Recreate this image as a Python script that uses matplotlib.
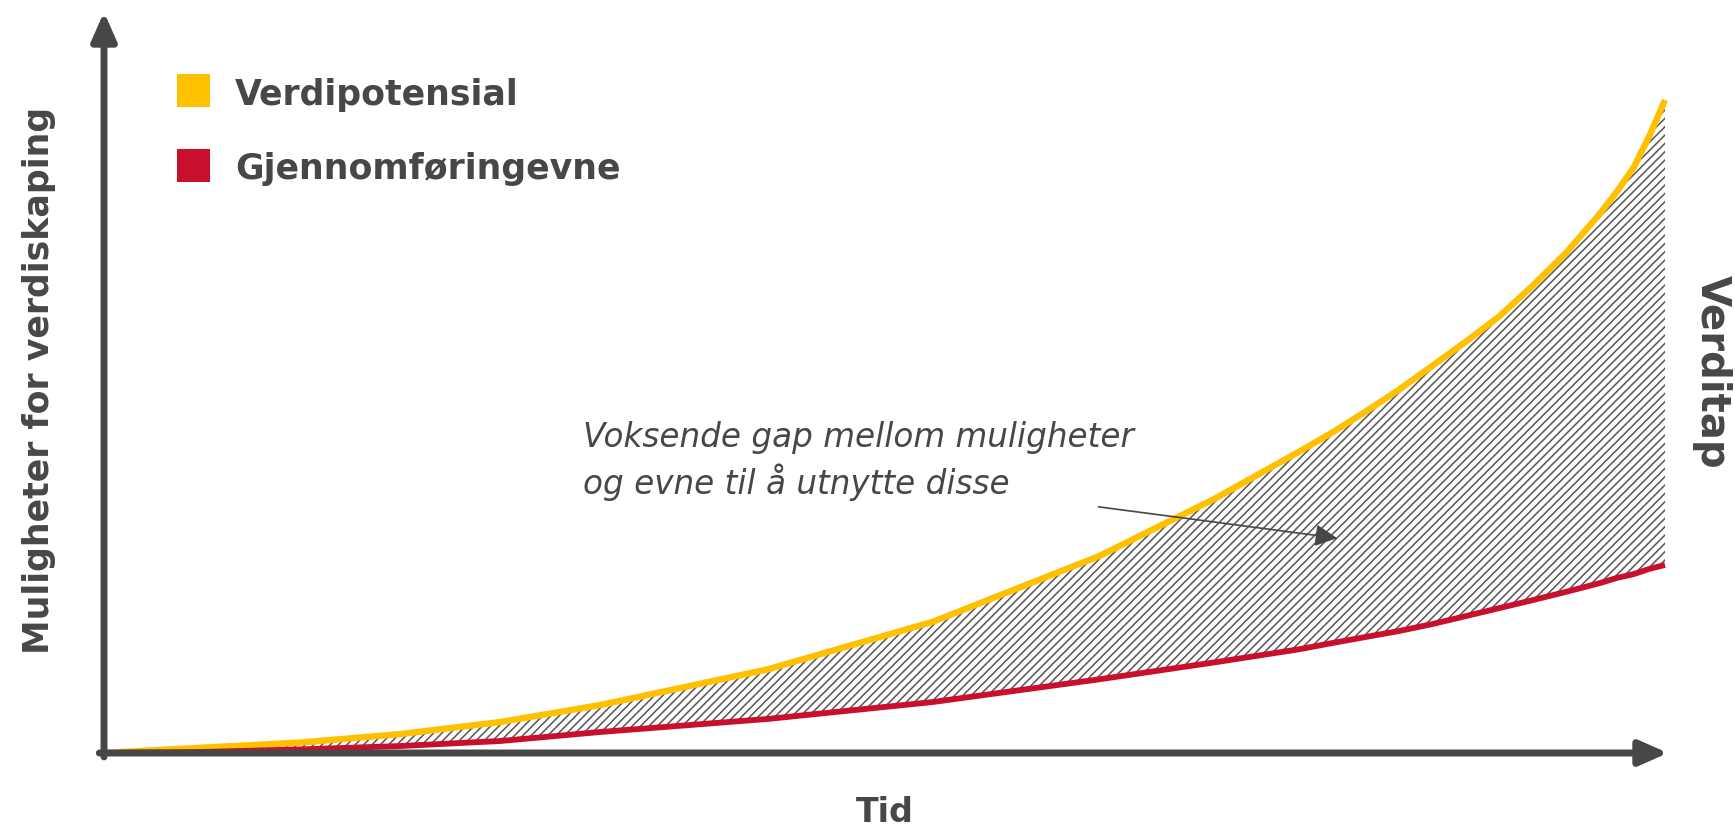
import matplotlib

matplotlib.use("Agg")
import matplotlib.pyplot as plt
import numpy as np
from matplotlib.patches import Rectangle

# Time (0-100) and value (0-100, relative to top of yellow curve)
time = [0, 6.2, 12.6, 19, 25.4, 31.8, 42.5, 53.1, 63.8, 71.2, 76.6, 78.7, 80.9, 83,
        85.1, 87.3, 89.4, 91.5, 93.7, 95.8, 96.9, 98, 99, 100]
verdipotensial = [0, 0.8, 1.6, 2.9, 4.75, 7.35, 12.8, 20.1, 30.2, 39.0, 46.2, 49.1,
                  52.4, 55.7, 59.3, 63.1, 66.9, 71.5, 76.7, 82.5, 85.9, 89.7,
                  94.5, 100.0]
gjennomforing = [0, 0.15, 0.55, 1.07, 1.84, 3.22, 5.21, 7.81, 11.3, 13.9, 15.9,
                 16.85, 17.8, 18.7, 19.75, 21.0, 22.2, 23.4, 24.7, 26.0, 26.8,
                 27.4, 28.2, 28.8]

series_labels = ["Verdipotensial", "Gjennomføringevne"]
x_label = "Tid"
y_label = "Muligheter for verdiskaping"
right_label = "Verditap"
note = "Voksende gap mellom muligheter\nog evne til å utnytte disse"

YELLOW = "#FFC000"
RED = "#C8102E"
GREY = "#474747"
HATCH_GREY = "#555555"

W, H = 1735, 829


def fx(px):
    return px / W


def fy(py):
    return 1 - py / H


plt.rcParams["hatch.linewidth"] = 1.1
plt.rcParams["font.family"] = ["DejaVu Sans"]

fig = plt.figure(figsize=(W / 100, H / 100), dpi=100)
ax = fig.add_axes([fx(104), fy(754), fx(1665 - 104), (754 - 101) / H])
ax.set_xlim(0, 100)
ax.set_ylim(0, 100)
ax.axis("off")

t = np.array(time)
upper = np.array(verdipotensial)
lower = np.array(gjennomforing)

ax.fill_between(t, lower, upper, facecolor="white", edgecolor=HATCH_GREY,
                hatch="////", linewidth=0)
ax.plot(t, upper, color=YELLOW, lw=4.6, solid_capstyle="butt",
        solid_joinstyle="round", clip_on=False)
ax.plot(t, lower, color=RED, lw=4.2, solid_capstyle="butt",
        solid_joinstyle="round", clip_on=False)

# axis arrows
arrow = dict(arrowstyle="-|>,head_length=1.7,head_width=0.75", lw=5, color=GREY,
             shrinkA=0, shrinkB=0, mutation_scale=10)
ax.annotate("", xy=(0, (754 - 13) / 653), xytext=(0, -0.006),
            xycoords="axes fraction", arrowprops=arrow, annotation_clip=False)
ax.annotate("", xy=((1668 - 104) / 1561, 0), xytext=(-0.003, 0),
            xycoords="axes fraction", arrowprops=arrow, annotation_clip=False)

# annotation pointing into the gap
ax.annotate("", xy=(79.0, 32.9), xytext=(63.7, 37.7),
            arrowprops=dict(arrowstyle="-|>,head_length=0.9,head_width=0.45",
                            lw=1.2, color=GREY, shrinkA=0, shrinkB=0,
                            mutation_scale=15))
fig.text(fx(583), fy(461), note, fontsize=23.5, style="italic", color=GREY,
         va="center", ha="left", linespacing=1.29)

# legend
for i, (label, color) in enumerate(zip(series_labels, [YELLOW, RED])):
    cy = 91 + i * 75
    fig.patches.append(Rectangle((fx(177), fy(cy + 16.5)), 33 / W, 33 / H,
                                 transform=fig.transFigure, facecolor=color,
                                 edgecolor="none"))
    fig.text(fx(235), fy(cy), label, fontsize=25, fontweight="bold", color=GREY,
             va="center_baseline", ha="left")

fig.text(fx(39), fy(380), y_label, fontsize=25, fontweight="bold", color=GREY,
         rotation=90, va="center", ha="center")
fig.text(fx(885), fy(813), x_label, fontsize=24, fontweight="bold", color=GREY,
         va="center", ha="center")
fig.text(fx(1712), fy(372), right_label, fontsize=29, fontweight="bold",
         color=GREY, rotation=-90, va="center", ha="center")

fig.savefig("out.png", dpi=100, facecolor="white")
